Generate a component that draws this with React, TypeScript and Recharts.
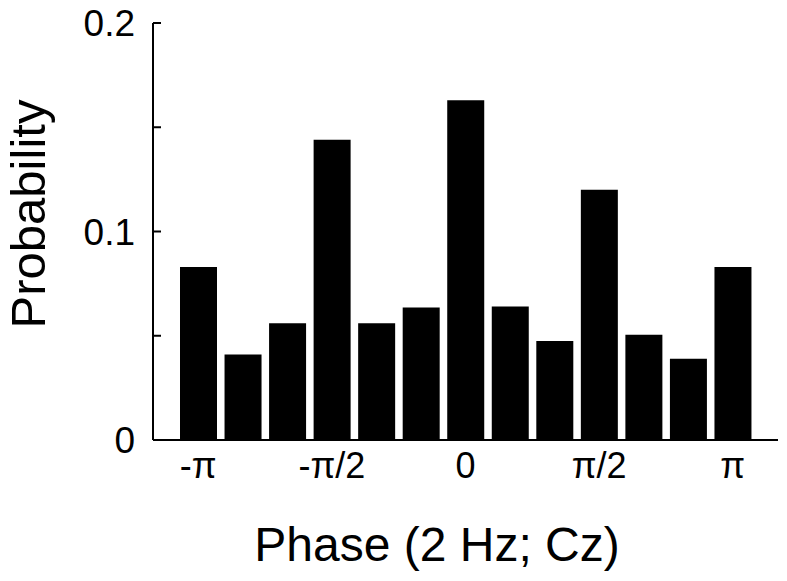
import * as React from "react";
import { BarChart, Bar, XAxis, YAxis, Label } from "recharts";

const phaseBins = ["-π", "-5π/6", "-2π/3", "-π/2", "-π/3", "-π/6", "0", "π/6", "π/3", "π/2", "2π/3", "5π/6", "π"];
const probabilities = [0.083, 0.041, 0.056, 0.144, 0.056, 0.0635, 0.163, 0.064, 0.0475, 0.12, 0.0505, 0.039, 0.083];
const xTicks = ["-π", "-π/2", "0", "π/2", "π"];
const yTicks = [0, 0.05, 0.1, 0.15, 0.2];
const yLabelled = [0, 0.1, 0.2];

const data = phaseBins.map((phase, i) => ({ phase, p: probabilities[i] }));

const FONT = "'Liberation Sans', Arial, Helvetica, sans-serif";

function YTick(props: any) {
  const { x, y, payload } = props;
  const v = payload.value;
  return (
    <g>
      <line x1={x} x2={x + 8} y1={y} y2={y} stroke="#000" strokeWidth={2} />
      {yLabelled.includes(v) && (
        <text x={x - 18} y={y} dy="0.36em" textAnchor="end" fontSize={37} fontFamily={FONT} fill="#000">
          {String(v)}
        </text>
      )}
    </g>
  );
}

export default function App() {
  return (
    <div style={{ position: "absolute", left: 0, top: 0, width: 787, height: 581, background: "#fff" }}>
      <BarChart
        width={787}
        height={581}
        data={data}
        margin={{ top: 23, right: 9, bottom: 0, left: 0 }}
      >
        <XAxis
          dataKey="phase"
          ticks={xTicks}
          interval={0}
          padding={{ left: 23, right: 23 }}
          height={141}
          tickLine={false}
          tickSize={0}
          tickMargin={12}
          axisLine={{ stroke: "#000", strokeWidth: 2 }}
          tick={{ fill: "#000", fontSize: 36, fontFamily: FONT }}
        >
          <Label
            content={() => (
              <text x={437} y={561} textAnchor="middle" fontSize={48} fontFamily={FONT} fill="#000">
                Phase (2 Hz; Cz)
              </text>
            )}
          />
        </XAxis>
        <YAxis
          type="number"
          domain={[0, 0.2]}
          ticks={yTicks}
          width={153}
          tickLine={false}
          tickSize={0}
          tickMargin={0}
          axisLine={{ stroke: "#000", strokeWidth: 2 }}
          tick={<YTick />}
        >
          <Label
            content={() => (
              <text
                x={45}
                y={214}
                transform="rotate(-90 45 214)"
                textAnchor="middle"
                fontSize={49}
                fontFamily={FONT}
                fill="#000"
              >
                Probability
              </text>
            )}
          />
        </YAxis>
        <Bar dataKey="p" fill="#000" barSize={37} isAnimationActive={false} />
      </BarChart>
    </div>
  );
}
